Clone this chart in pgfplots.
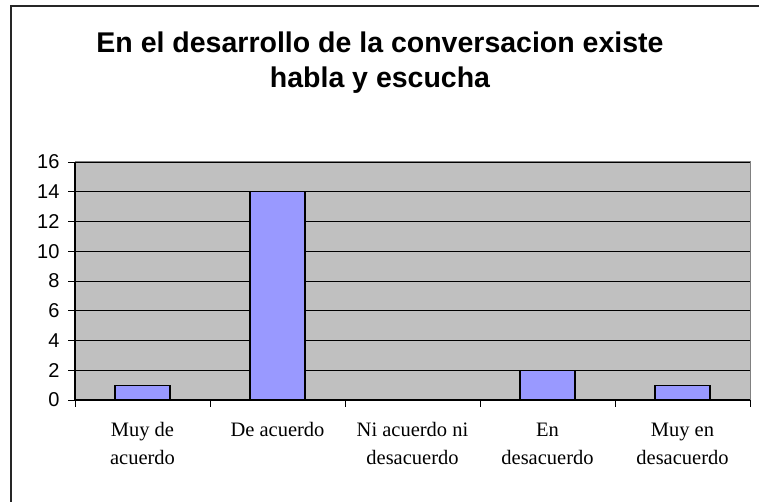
\documentclass[border=0pt]{standalone}
\usepackage{fontspec}
\setmainfont{Liberation Serif}
\newfontfamily\arial{Liberation Sans}
\usepackage{pgfplots}
\pgfplotsset{compat=1.18}
\definecolor{barblue}{HTML}{9999FF}
\definecolor{plotgray}{HTML}{C0C0C0}
\definecolor{edgegray}{HTML}{808080}

\begin{document}
\begin{tikzpicture}[x=1pt,y=1pt]
  \path[use as bounding box] (0,0) rectangle (759,502);
  % outer chart frame (right and bottom edges fall outside the image)
  \draw[line width=1.2pt, black!85] (11,-5) -- (11,496) -- (765,496);

  % title
  \node[anchor=base, font=\arial\bfseries\fontsize{28.5}{30}\selectfont] at (380,449)
    {En el desarrollo de la conversacion existe};
  \node[anchor=base, font=\arial\bfseries\fontsize{28.5}{30}\selectfont] at (380,414)
    {habla y escucha};

  \begin{axis}[
    at={(75pt,102pt)}, anchor=south west,
    scale only axis,
    width=675pt, height=238pt,
    xmin=0, xmax=5,
    ymin=0, ymax=16,
    ytick={0,2,...,16},
    xtick={0,1,2,3,4,5},
    xticklabels={\strut Muy de\\acuerdo, \strut De acuerdo, \strut Ni acuerdo ni\\desacuerdo, \strut En\\desacuerdo, \strut Muy en\\desacuerdo},
    x tick label as interval,
    xtick pos=bottom, ytick pos=left,
    tick align=outside,
    major tick length=7pt,
    tick style={black, line width=0.8pt},
    ymajorgrids,
    grid style={black, line width=0.8pt},
    axis background/.style={fill=plotgray},
    axis line style={draw=edgegray, line width=1pt},
    /pgf/number format/assume math mode=true,
    yticklabel style={font=\arial\fontsize{20}{20}\selectfont, xshift=-5pt},
    xticklabel style={font=\fontsize{20.5}{28}\selectfont, align=center, anchor=north, inner sep=0pt, yshift=-10pt},
    ybar, bar width=55pt,
    clip=false,
  ]
    \addplot[fill=barblue, draw=black, line width=1.1pt]
      coordinates {(0.5,1) (1.5,14) (2.5,0) (3.5,2) (4.5,1)};
    \draw[black, line width=1.2pt] (rel axis cs:0,1) -- (rel axis cs:0,0) -- (rel axis cs:1,0);
  \end{axis}
\end{tikzpicture}
\end{document}
